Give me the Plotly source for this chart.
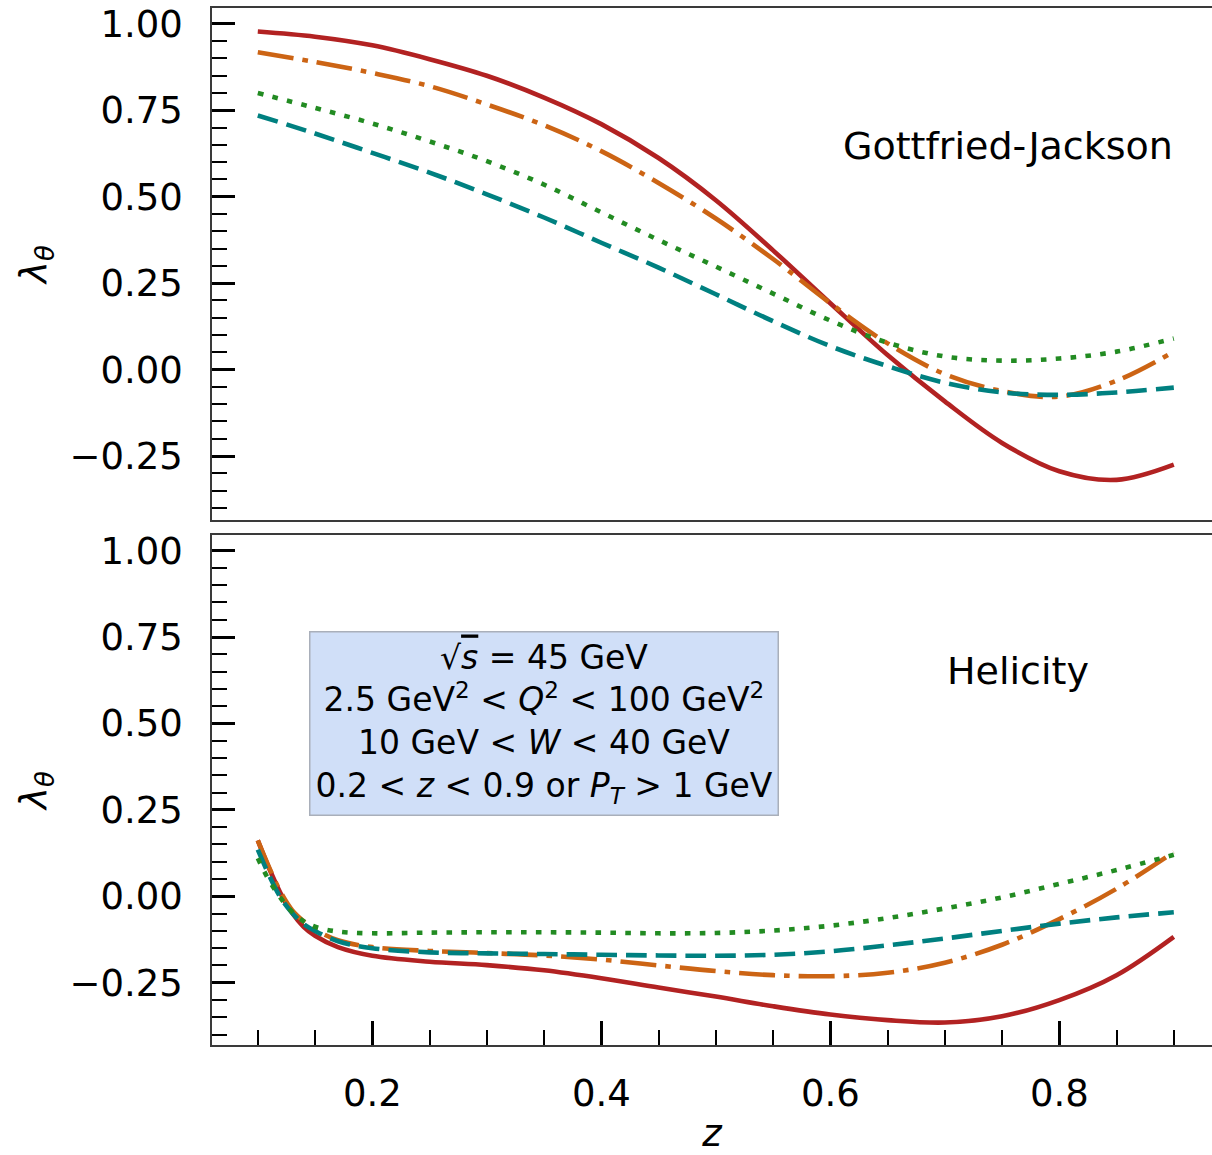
import plotly.graph_objects as go

# ---------------- data ----------------
z_gj = [0.10, 0.15, 0.20, 0.25, 0.30, 0.35, 0.40, 0.45, 0.50, 0.55,
        0.60, 0.65, 0.70, 0.75, 0.80, 0.85, 0.90]
gj_red = [0.978, 0.963, 0.938, 0.898, 0.850, 0.787, 0.710, 0.612, 0.490, 0.345,
          0.192, 0.042, -0.092, -0.212, -0.294, -0.319, -0.275]
gj_orange = [0.918, 0.890, 0.858, 0.820, 0.767, 0.707, 0.632, 0.540, 0.437, 0.320,
             0.192, 0.076, -0.013, -0.062, -0.078, -0.032, 0.052]
gj_green = [0.800, 0.757, 0.712, 0.660, 0.603, 0.535, 0.455, 0.375, 0.298, 0.220,
            0.142, 0.078, 0.038, 0.026, 0.032, 0.052, 0.090]
gj_teal = [0.735, 0.683, 0.627, 0.570, 0.507, 0.440, 0.367, 0.295, 0.218, 0.140,
           0.068, 0.010, -0.038, -0.066, -0.073, -0.066, -0.052]

z_hel = [0.10, 0.11, 0.12, 0.13, 0.14, 0.15, 0.17, 0.20, 0.25, 0.30, 0.35,
         0.40, 0.45, 0.50, 0.55, 0.60, 0.65, 0.70, 0.75, 0.80, 0.85, 0.90]
hel_red = [0.162, 0.080, 0.008, -0.048, -0.088, -0.114, -0.147, -0.172, -0.189, -0.199, -0.214,
           -0.237, -0.264, -0.290, -0.318, -0.342, -0.358, -0.365, -0.347, -0.300, -0.228, -0.117]
hel_orange = [0.162, 0.083, 0.012, -0.040, -0.072, -0.096, -0.127, -0.147, -0.158, -0.164, -0.171,
              -0.183, -0.200, -0.216, -0.228, -0.231, -0.221, -0.192, -0.140, -0.066, 0.022, 0.128]
hel_green = [0.110, 0.045, -0.005, -0.045, -0.072, -0.088, -0.102, -0.107, -0.105, -0.104, -0.104,
             -0.105, -0.107, -0.106, -0.099, -0.085, -0.063, -0.035, -0.003, 0.036, 0.076, 0.120]
hel_teal = [0.135, 0.060, -0.004, -0.048, -0.080, -0.100, -0.130, -0.150, -0.162, -0.165, -0.167,
            -0.169, -0.171, -0.172, -0.169, -0.159, -0.142, -0.122, -0.100, -0.079, -0.061, -0.046]

frame_labels = ["Gottfried-Jackson", "Helicity"]
box_lines = [
    "√<span style='text-decoration:overline'><i>s</i></span> = 45 GeV",
    "2.5 GeV<sup>2</sup> &lt; <i>Q</i><sup>2</sup> &lt; 100 GeV<sup>2</sup>",
    "10 GeV &lt; <i>W</i> &lt; 40 GeV",
    "0.2 &lt; <i>z</i> &lt; 0.9 or <i>P</i><sub><i>T</i></sub> &gt; 1 GeV",
]

# ---------------- styles ----------------
FONT = "DejaVu Sans"
styles = {
    "red": dict(color="#b22222", dash="solid"),
    "orange": dict(color="#cc6414", dash="36px,9px,5.6px,9px"),
    "teal": dict(color="#008080", dash="20.7px,9px"),
    "green": dict(color="#228b22", dash="5.6px,9.3px"),
}
LW = 4.6

fig = go.Figure()

def add(z, y, key, xa, ya):
    st = styles[key]
    fig.add_trace(go.Scatter(
        x=z, y=y, mode="lines", xaxis=xa, yaxis=ya, showlegend=False,
        line=dict(color=st["color"], dash=st["dash"], width=LW, shape="spline", smoothing=1.0),
    ))

for z, r, o, t, g, xa, ya in [
    (z_gj, gj_red, gj_orange, gj_teal, gj_green, "x", "y"),
    (z_hel, hel_red, hel_orange, hel_teal, hel_green, "x2", "y2"),
]:
    add(z, r, "red", xa, ya)
    add(z, o, "orange", xa, ya)
    add(z, t, "teal", xa, ya)
    add(z, g, "green", xa, ya)

W, H = 1212, 1155
ML, MR, MT, MB = 212, 0, 8, 110
plot_h = H - MT - MB
top_dom = [(1045 - 520) / plot_h, 1.0]
bot_dom = [0.0, (1045 - 535) / plot_h]
xr = [0.06, 0.06 + (W - ML) / 1145.0]

tickfont = dict(family=FONT, size=37, color="black")

def xaxis(anchor, labels):
    return dict(
        domain=[0, 1], anchor=anchor, range=xr, autorange=False, automargin=False,
        showline=True, linecolor="#3a3a3a", linewidth=1.6, mirror=True,
        showgrid=False, zeroline=False,
        ticks="inside" if labels else "", ticklen=24, tickwidth=3, tickcolor="black",
        dtick=0.2, tick0=0, tickformat=".1f", showticklabels=labels,
        tickfont=tickfont, ticklabelstandoff=15,
        minor=dict(ticks="inside" if labels else "", ticklen=15, tickwidth=2,
                   tickcolor="black", dtick=0.05, tick0=0, showgrid=False),
    )

def yaxis(anchor, dom, rng):
    return dict(
        domain=dom, anchor=anchor, range=rng, autorange=False, automargin=False,
        showline=True, linecolor="#3a3a3a", linewidth=1.6, mirror=False,
        showgrid=False, zeroline=False,
        ticks="inside", ticklen=23, tickwidth=3, tickcolor="black",
        dtick=0.25, tick0=0, tickformat=".2f",
        tickfont=tickfont, ticklabelstandoff=20,
        minor=dict(ticks="inside", ticklen=15, tickwidth=2, tickcolor="black",
                   dtick=0.05, tick0=0, showgrid=False),
        title=dict(text="<i>λ</i><sub><i>θ</i></sub>", font=dict(family=FONT, size=37, color="black"),
                   standoff=11),
    )

fig.update_layout(
    width=W, height=H,
    margin=dict(l=ML, r=MR, t=MT, b=MB, autoexpand=False),
    plot_bgcolor="white", paper_bgcolor="white",
    xaxis=xaxis("y", False),
    yaxis=yaxis("x", top_dom, [-0.435, 1.046]),
    xaxis2=xaxis("y2", True),
    yaxis2=yaxis("x2", bot_dom, [-0.430, 1.045]),
    showlegend=False,
)
fig.layout.xaxis2.title = dict(text="<i>z</i>", font=dict(family=FONT, size=37, color="black"), standoff=22)

fig.add_annotation(x=0.755, y=0.648, xref="x", yref="y", text=frame_labels[0],
                   showarrow=False, font=dict(family=FONT, size=38, color="black"))
fig.add_annotation(x=0.7635, y=0.651, xref="x2", yref="y2", text=frame_labels[1],
                   showarrow=False, font=dict(family=FONT, size=38, color="black"))
fig.add_annotation(x=0.35, y=0.5, xref="x2", yref="y2", text="<br>".join(box_lines),
                   showarrow=False, align="center",
                   font=dict(family=FONT, size=33, color="black"),
                   bgcolor="#d0dff8", bordercolor="#a9afba", borderwidth=1.5, borderpad=5)

fig.write_html("out.html")
